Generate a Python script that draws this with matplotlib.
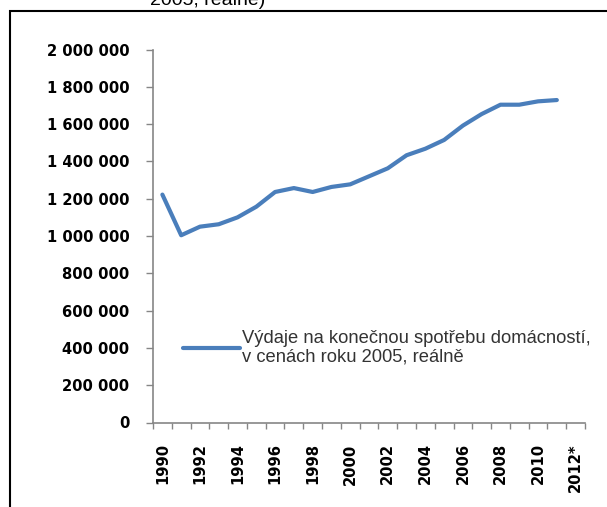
import matplotlib
matplotlib.use("Agg")
import matplotlib.pyplot as plt
from matplotlib.patches import Rectangle
from matplotlib.ticker import FuncFormatter
from matplotlib.font_manager import FontProperties

# categories on the x axis (2012 has no value yet)
years = list(range(1990, 2013))
tick_labels = ["1990", "1992", "1994", "1996", "1998", "2000",
               "2002", "2004", "2006", "2008", "2010", "2012*"]

# household final consumption, 2005 prices (1990-2011)
spending = [1222000, 1004000, 1050000, 1063000, 1100000, 1157000,
            1236000, 1257000, 1236000, 1263000, 1277000, 1320000,
            1363000, 1433000, 1468000, 1515000, 1592000, 1654000,
            1704000, 1704000, 1722000, 1729000]

series_label = "Výdaje na konečnou spotřebu domácností,\nv cenách roku 2005, reálně"

W, H = 607, 507
fig = plt.figure(figsize=(W / 100, H / 100), dpi=100)
ax = fig.add_axes([153 / W, 1 - 422.5 / H, (585 - 153) / W, (422.5 - 49.5) / H])

axis_grey = "#868686"
tick_font = FontProperties(family="DejaVu Sans", stretch="condensed", weight="bold", size=11.8)

x = list(range(len(spending)))
ax.plot(x, spending, color="#4A7EBB", lw=3, solid_joinstyle="round",
        solid_capstyle="round", label=series_label)

ax.set_xlim(-0.5, len(years) - 0.5)
ax.set_ylim(0, 2000000)

# y axis
ax.set_yticks(range(0, 2000001, 200000))
ax.yaxis.set_major_formatter(FuncFormatter(lambda v, p: f"{int(v):,}".replace(",", " ")))
for lab in ax.get_yticklabels():
    lab.set_fontproperties(tick_font)
ax.tick_params(axis="y", length=5, width=1, color=axis_grey, pad=12)

# x axis: tick marks at category edges, labels on every second category
ax.set_xticks([i - 0.5 for i in range(len(years) + 1)])
ax.set_xticklabels([])
ax.set_xticks(list(range(0, len(years), 2)), minor=True)
ax.set_xticklabels(tick_labels, minor=True, rotation=90, va="top", ha="center")
for lab in ax.get_xticklabels(minor=True):
    lab.set_fontproperties(tick_font)
ax.tick_params(axis="x", which="major", length=4, width=1, color=axis_grey)
ax.tick_params(axis="x", which="minor", length=0, pad=15)

for s in ["top", "right"]:
    ax.spines[s].set_visible(False)
for s in ["left", "bottom"]:
    ax.spines[s].set_color(axis_grey)
    ax.spines[s].set_linewidth(1.2)

leg = ax.legend(loc="upper left", bbox_to_anchor=(30 / 432, (422.5 - 330) / 373),
                frameon=False, handlelength=3.1, handletextpad=0.1,
                borderaxespad=0, borderpad=0,
                prop=dict(family=["Liberation Sans", "DejaVu Sans"], size=13.2))
for t in leg.get_texts():
    t.set_color("#333333")
    t.set_linespacing(1.1)

# cut-off title remnant and outer frame
fig.text(150 / W, 1 - 5 / H, "2005, reálně)", fontsize=14,
         family=["Liberation Sans", "DejaVu Sans"], va="baseline", ha="left")
fig.add_artist(Rectangle((9.5 / W, -0.2), 1.2, 1.2 - 11 / H, transform=fig.transFigure,
                         fill=False, edgecolor="black", lw=1.5))

fig.savefig("out.png", dpi=100)
